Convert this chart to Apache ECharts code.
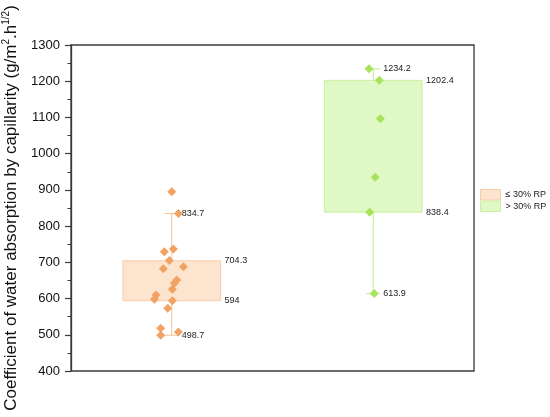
<!DOCTYPE html>
<html>
<head>
<meta charset="utf-8">
<script src="https://cdn.jsdelivr.net/npm/echarts@6/dist/echarts.min.js"></script>
<style>
  html, body { margin: 0; padding: 0; background: #ffffff; }
  #main { width: 550px; height: 417px; }
</style>
</head>
<body>
<div id="main"></div>
<script>
var groups = ['≤ 30% RP', '> 30% RP']
// box stats per group
var boxLow = [498.7, 613.9]
var boxQ1 = [594, 838.4]
var boxQ3 = [704.3, 1202.4]
var boxHigh = [834.7, 1234.2]
// raw points and their sideways jitter (category units)
var lowRpValues = [895, 834.7, 729, 737, 705, 682, 688, 651, 642, 626, 610, 598, 594, 573, 518, 498.7, 508]
var lowRpJitter = [0, 0.033, -0.037, 0.008, -0.012, -0.042, 0.058, 0.025, 0.013, 0.003, -0.078, -0.086, 0.003, -0.02, -0.055, -0.055, 0.033]
var highRpValues = [1234.2, 1202.4, 1096.6, 934.8, 838.4, 613.9]
var highRpJitter = [-0.021, 0.03, 0.035, 0.01, -0.018, 0.005]

var colors = [
  { point: '#F2A262', fill: '#FDE4CE', border: '#F8CDA8', line: '#F6C294' },
  { point: '#A8E35C', fill: '#E0F8C6', border: '#CBF0A2', line: '#C2EC92' }
]

function fmt(v) {
  return String(v)
}

function makeBox(c) {
  return function(params, api) {
    var idx = api.value(0)
    var lo = api.coord([idx, api.value(1)])
    var q1 = api.coord([idx, api.value(2)])
    var q3 = api.coord([idx, api.value(3)])
    var hi = api.coord([idx, api.value(4)])
    var w = api.size([1, 0])[0] * 0.485
    var x = lo[0]
    var cap = 7
    var txt = { fill: '#222', fontSize: 9, fontFamily: 'Liberation Sans, Arial', verticalAlign: 'middle', align: 'left' }
    return {
      type: 'group',
      children: [
        { type: 'line', shape: { x1: x, y1: hi[1], x2: x, y2: q3[1] }, style: { stroke: c.line, lineWidth: 1 } },
        { type: 'line', shape: { x1: x, y1: q1[1], x2: x, y2: lo[1] }, style: { stroke: c.line, lineWidth: 1 } },
        { type: 'line', shape: { x1: x - cap, y1: hi[1], x2: x + cap, y2: hi[1] }, style: { stroke: c.line, lineWidth: 1 } },
        { type: 'line', shape: { x1: x - cap, y1: lo[1], x2: x + cap, y2: lo[1] }, style: { stroke: c.line, lineWidth: 1 } },
        { type: 'rect', shape: { x: x - w / 2, y: q3[1], width: w, height: q1[1] - q3[1] }, style: { fill: c.fill, stroke: c.border, lineWidth: 1 } },
        { type: 'text', x: x + cap + 3, y: hi[1], style: Object.assign({ text: fmt(api.value(4)) }, txt) },
        { type: 'text', x: x + cap + 3, y: lo[1], style: Object.assign({ text: fmt(api.value(1)) }, txt) },
        { type: 'text', x: x + w / 2 + 4, y: q3[1], style: Object.assign({ text: fmt(api.value(3)) }, txt) },
        { type: 'text', x: x + w / 2 + 4, y: q1[1], style: Object.assign({ text: fmt(api.value(2)) }, txt) }
      ]
    }
  }
}

function pts(values, jitter, offset) {
  var out = []
  for (var i = 0; i < values.length; i++) {
    out.push([offset + jitter[i], values[i]])
  }
  return out
}

var chart = echarts.init(document.getElementById('main'))
var option = {
  animation: false,
  backgroundColor: '#ffffff',
  textStyle: { fontFamily: 'Liberation Sans, Arial, sans-serif' },
  grid: {
    left: 71, right: 76, top: 45, bottom: 46,
    containLabel: false, outerBoundsMode: 'none',
    show: true, borderColor: '#3a3a3a', borderWidth: 1.3, backgroundColor: 'transparent'
  },
  legend: {
    left: 480, top: 189,
    padding: 0,
    orient: 'vertical',
    itemGap: 0,
    itemWidth: 20, itemHeight: 10.5,
    textStyle: { fontSize: 9, color: '#222' },
    data: [
      { name: groups[0], icon: 'rect', itemStyle: { color: colors[0].fill, borderColor: colors[0].border, borderWidth: 1 } },
      { name: groups[1], icon: 'rect', itemStyle: { color: colors[1].fill, borderColor: colors[1].border, borderWidth: 1 } }
    ]
  },
  xAxis: [
    {
      type: 'category', data: groups, boundaryGap: true,
      axisLine: { show: false }, axisTick: { show: false }, axisLabel: { show: false }, splitLine: { show: false }
    },
    {
      type: 'value', min: -0.5, max: 1.5, show: false, position: 'bottom'
    }
  ],
  yAxis: {
    type: 'value', min: 400, max: 1300, interval: 100,
    name: '{n|Coefficient of water absorption by capillarity (g/m}{s|2}{n|.h}{s|1/2}{n|)}',
    nameLocation: 'middle', nameGap: 49,
    nameTextStyle: {
      rich: {
        n: { fontSize: 17, lineHeight: 20, color: '#111', fontFamily: 'Liberation Sans, Arial' },
        s: { fontSize: 10, lineHeight: 10, verticalAlign: 'top', color: '#111', fontFamily: 'Liberation Sans, Arial' }
      }
    },
    axisLine: { show: true, onZero: false, lineStyle: { color: '#3a3a3a', width: 1.3 } },
    axisTick: { show: true, inside: false, length: 6, lineStyle: { color: '#3a3a3a', width: 1.2 } },
    minorTick: { show: true, splitNumber: 2, length: 3.5, lineStyle: { color: '#3a3a3a', width: 1 } },
    axisLabel: { fontSize: 13, color: '#111', margin: 11, formatter: function(v) { return String(v) } },
    splitLine: { show: false }
  },
  series: [
    {
      name: groups[0], type: 'custom', xAxisIndex: 0, z: 1,
      itemStyle: { color: colors[0].fill },
      renderItem: makeBox(colors[0]),
      encode: { x: 0, y: [1, 2, 3, 4] },
      data: [[0, boxLow[0], boxQ1[0], boxQ3[0], boxHigh[0]]]
    },
    {
      name: groups[1], type: 'custom', xAxisIndex: 0, z: 1,
      itemStyle: { color: colors[1].fill },
      renderItem: makeBox(colors[1]),
      encode: { x: 0, y: [1, 2, 3, 4] },
      data: [[1, boxLow[1], boxQ1[1], boxQ3[1], boxHigh[1]]]
    },
    {
      name: groups[0], type: 'scatter', xAxisIndex: 1, z: 3,
      symbol: 'diamond', symbolSize: 9,
      itemStyle: { color: colors[0].point, opacity: 1 },
      data: pts(lowRpValues, lowRpJitter, 0)
    },
    {
      name: groups[1], type: 'scatter', xAxisIndex: 1, z: 3,
      symbol: 'diamond', symbolSize: 9,
      itemStyle: { color: colors[1].point, opacity: 1 },
      data: pts(highRpValues, highRpJitter, 1)
    }
  ]
}
chart.setOption(option)
</script>
</body>
</html>
